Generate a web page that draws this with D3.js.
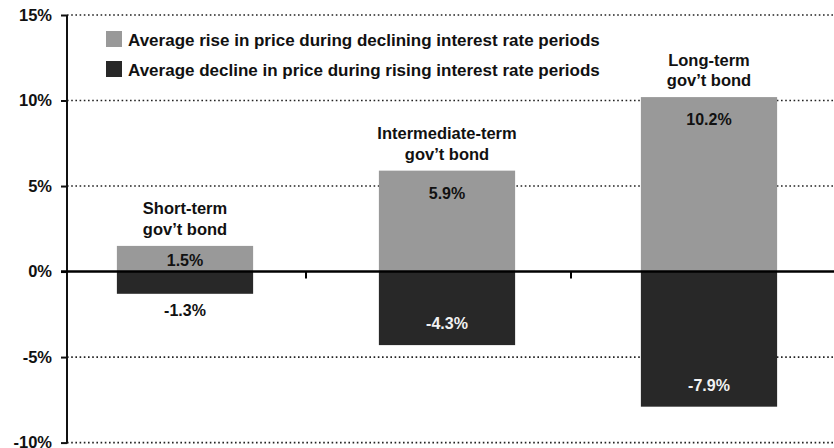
<!DOCTYPE html>
<html>
<head>
<meta charset="utf-8">
<script src="https://cdn.jsdelivr.net/npm/d3@7"></script>
<style>
  html, body { margin: 0; padding: 0; background: #fff; }
  svg { display: block; font-family: "Liberation Sans", Arial, sans-serif; font-weight: bold; }
</style>
</head>
<body>
<svg id="chart" width="834" height="448"></svg>
<script>
// Bond categories (two-line labels)
const categories = ["Short-term", "Intermediate-term", "Long-term"];
const categoryLines = [["Short-term", "gov\u2019t bond"], ["Intermediate-term", "gov\u2019t bond"], ["Long-term", "gov\u2019t bond"]];

// Average price change (%)
const riseValues = [1.5, 5.9, 10.2];     // declining interest rate periods
const declineValues = [-1.3, -4.3, -7.9]; // rising interest rate periods

const seriesNames = [
  "Average rise in price during declining interest rate periods",
  "Average decline in price during rising interest rate periods"
];
const seriesColors = ["#999999", "#282828"];

const yTicks = [-10, -5, 0, 5, 10, 15];

const svg = d3.select("#chart");
const axisX = 67, plotRight = 834;

const y = d3.scaleLinear().domain([-10, 15]).range([442.6, 15]);
const x = d3.scaleBand().domain(categories).range([54, 840]).paddingInner(0.48).paddingOuter(0.24);
const xTick = d3.scaleBand().domain(categories).range([41, 836]);

// Dotted gridlines
svg.append("g").selectAll("line")
  .data(yTicks.filter(d => d !== 0))
  .join("line")
  .attr("x1", axisX).attr("x2", plotRight)
  .attr("y1", d => y(d)).attr("y2", d => y(d))
  .attr("stroke", "#222")
  .attr("stroke-width", 1.6)
  .attr("stroke-dasharray", "1.6,2.6");

// Bars
const rows = categories.map((c, i) => ({ c, i, rise: riseValues[i], decline: declineValues[i] }));
const bars = svg.append("g");
bars.selectAll("rect.rise").data(rows).join("rect")
  .attr("class", "rise")
  .attr("x", d => x(d.c)).attr("width", x.bandwidth())
  .attr("y", d => y(d.rise)).attr("height", d => y(0) - y(d.rise))
  .attr("fill", seriesColors[0]);
bars.selectAll("rect.decline").data(rows).join("rect")
  .attr("class", "decline")
  .attr("x", d => x(d.c)).attr("width", x.bandwidth())
  .attr("y", y(0)).attr("height", d => y(d.decline) - y(0))
  .attr("fill", seriesColors[1]);

// Y axis
const yAxis = d3.axisLeft(y).tickValues(yTicks).tickFormat(d => d + "%").tickSize(6).tickPadding(9);
const gy = svg.append("g").attr("transform", `translate(${axisX},0)`).call(yAxis);
gy.select(".domain").remove();
gy.selectAll(".tick line").attr("stroke", "#111").attr("stroke-width", 2);
gy.selectAll(".tick text").attr("fill", "#111").attr("font-size", 16.5)
  .attr("font-family", "'Liberation Sans', Arial, sans-serif").attr("font-weight", "bold");
svg.append("line").attr("x1", axisX).attr("x2", axisX).attr("y1", y(15)).attr("y2", y(-10) + 1)
  .attr("stroke", "#111").attr("stroke-width", 2);

// Zero line with category dividers
svg.append("line").attr("x1", axisX - 6).attr("x2", plotRight).attr("y1", y(0)).attr("y2", y(0))
  .attr("stroke", "#000").attr("stroke-width", 2.4);
svg.append("g").selectAll("line").data(categories.slice(0, -1)).join("line")
  .attr("x1", d => xTick(d) + xTick.bandwidth()).attr("x2", d => xTick(d) + xTick.bandwidth())
  .attr("y1", y(0)).attr("y2", y(0) + 7)
  .attr("stroke", "#000").attr("stroke-width", 2);

// Value labels
const labels = svg.append("g").attr("text-anchor", "middle").attr("font-size", 16);
labels.selectAll("text.rise").data(rows).join("text")
  .attr("class", "rise")
  .attr("x", d => x(d.c) + x.bandwidth() / 2)
  .attr("y", d => y(d.rise) + Math.min(28, (y(0) - y(d.rise)) / 2 + 7))
  .attr("fill", "#111")
  .text(d => d.rise.toFixed(1) + "%");
labels.selectAll("text.decline").data(rows).join("text")
  .attr("class", "decline")
  .attr("x", d => x(d.c) + x.bandwidth() / 2)
  .attr("y", d => {
    const h = y(d.decline) - y(0);
    return h > 40 ? y(d.decline) - 16 : y(d.decline) + 22;
  })
  .attr("fill", d => (y(d.decline) - y(0) > 40 ? "#f2f2f2" : "#111"))
  .text(d => d.decline.toFixed(1) + "%");

// Category titles above each bar
const titles = svg.append("g").attr("text-anchor", "middle").attr("font-size", 16.5).attr("fill", "#111");
rows.forEach(d => {
  const lines = categoryLines[d.i];
  const baseY = y(d.rise) - 11;
  lines.forEach((t, k) => {
    titles.append("text")
      .attr("x", x(d.c) + x.bandwidth() / 2)
      .attr("y", baseY - (lines.length - 1 - k) * 20.5)
      .text(t);
  });
});

// Legend
const legend = svg.append("g").attr("transform", "translate(106,31)");
seriesNames.forEach((name, i) => {
  const g = legend.append("g").attr("transform", `translate(0,${i * 30})`);
  g.append("rect").attr("width", 16).attr("height", 16).attr("fill", seriesColors[i]);
  g.append("text").attr("x", 22).attr("y", 14.5).attr("font-size", 17).attr("fill", "#111").text(name);
});
</script>
</body>
</html>
